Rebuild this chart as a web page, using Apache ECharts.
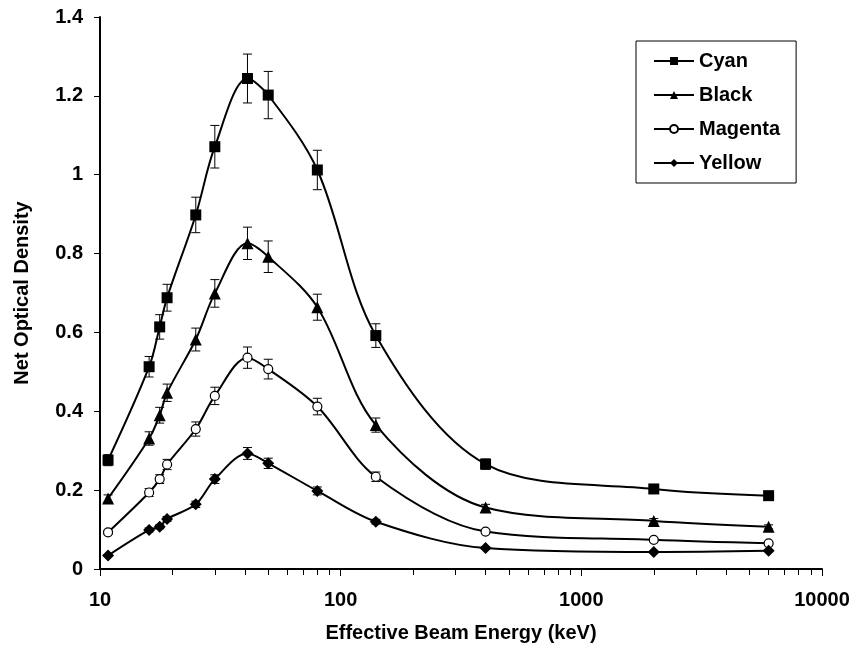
<!DOCTYPE html>
<html>
<head>
<meta charset="utf-8">
<script src="https://cdn.jsdelivr.net/npm/echarts@6/dist/echarts.min.js"></script>
<style>
  html, body { margin: 0; padding: 0; background: #fff; }
  #chart { width: 857px; height: 650px; }
</style>
</head>
<body>
<div id="chart"></div>
<script>
// Effective beam energy (keV) for each measurement
const energy = [10.8, 16, 17.7, 19, 25, 30, 41, 50, 80, 140, 400, 2000, 6000];

// Net optical density per ink colour
const cyan    = [0.276, 0.513, 0.614, 0.688, 0.898, 1.071, 1.244, 1.202, 1.012, 0.592, 0.266, 0.203, 0.186];
const black   = [0.179, 0.331, 0.390, 0.447, 0.582, 0.699, 0.826, 0.792, 0.664, 0.365, 0.156, 0.122, 0.107];
const magenta = [0.093, 0.194, 0.228, 0.265, 0.355, 0.439, 0.536, 0.507, 0.412, 0.234, 0.095, 0.074, 0.065];
const yellow  = [0.034, 0.099, 0.107, 0.127, 0.164, 0.228, 0.293, 0.268, 0.198, 0.120, 0.053, 0.043, 0.046];

// Uncertainty (+/-) on each value
const cyanErr    = [0.014, 0.026, 0.031, 0.034, 0.045, 0.054, 0.062, 0.060, 0.050, 0.030, 0.013, 0.010, 0.009];
const blackErr   = [0.009, 0.017, 0.020, 0.022, 0.029, 0.035, 0.041, 0.040, 0.033, 0.018, 0.008, 0.006, 0.005];
const magentaErr = [0.005, 0.010, 0.011, 0.013, 0.018, 0.022, 0.027, 0.025, 0.021, 0.012, 0.005, 0.004, 0.003];
const yellowErr  = [0.002, 0.005, 0.005, 0.006, 0.008, 0.011, 0.015, 0.013, 0.010, 0.006, 0.003, 0.002, 0.002];

const FONT = '"Liberation Sans", Arial, sans-serif';

const seriesDefs = [
  { name: 'Cyan',    values: cyan,    err: cyanErr,    symbol: 'rect',     size: 11, fill: '#000' },
  { name: 'Black',   values: black,   err: blackErr,   symbol: 'triangle', size: 12, fill: '#000' },
  { name: 'Magenta', values: magenta, err: magentaErr, symbol: 'circle',   size: 9,  fill: '#fff' },
  { name: 'Yellow',  values: yellow,  err: yellowErr,  symbol: 'diamond',  size: 12, fill: '#000' }
];

function errorBarItem(params, api) {
  const x = api.value(0), y = api.value(1), e = api.value(2);
  const top = api.coord([x, y + e]);
  const bot = api.coord([x, y - e]);
  const half = 4.5;
  const style = { stroke: '#000', lineWidth: 1 };
  return {
    type: 'group',
    children: [
      { type: 'line', shape: { x1: top[0], y1: top[1], x2: bot[0], y2: bot[1] }, style },
      { type: 'line', shape: { x1: top[0] - half, y1: top[1], x2: top[0] + half, y2: top[1] }, style },
      { type: 'line', shape: { x1: bot[0] - half, y1: bot[1], x2: bot[0] + half, y2: bot[1] }, style }
    ]
  };
}

const series = [];
seriesDefs.forEach(function (d) {
  series.push({
    type: 'custom',
    name: d.name + ' error',
    renderItem: errorBarItem,
    data: energy.map(function (x, i) { return [x, d.values[i], d.err[i]]; }),
    z: 1,
    silent: true
  });
});
seriesDefs.forEach(function (d) {
  series.push({
    type: 'line',
    name: d.name,
    data: energy.map(function (x, i) { return [x, d.values[i]]; }),
    smooth: 0.33,
    symbol: d.symbol,
    symbolSize: d.size,
    showAllSymbol: true,
    lineStyle: { color: '#000', width: 2 },
    itemStyle: { color: d.fill, borderColor: '#000', borderWidth: d.fill === '#fff' ? 1.2 : 0 },
    z: 3,
    animation: false
  });
});

const chart = echarts.init(document.getElementById('chart'), null, { renderer: 'canvas' });
chart.setOption({
  animation: false,
  backgroundColor: '#fff',
  grid: { left: 100, right: 35, top: 17, bottom: 81, containLabel: false },
  legend: {
    data: seriesDefs.map(function (d) { return d.name; }),
    orient: 'vertical',
    left: 636,
    top: 41,
    itemWidth: 40,
    itemHeight: 10,
    itemGap: 14,
    padding: [10, 16, 10, 17],
    borderColor: '#000',
    borderWidth: 1,
    textStyle: { fontFamily: FONT, fontWeight: 'bold', fontSize: 20, color: '#000' }
  },
  xAxis: {
    type: 'log',
    logBase: 10,
    min: 10,
    max: 10000,
    name: 'Effective Beam Energy (keV)',
    nameLocation: 'middle',
    nameGap: 54,
    nameTextStyle: { fontFamily: FONT, fontWeight: 'bold', fontSize: 20, color: '#000' },
    axisLine: { lineStyle: { color: '#000', width: 2 } },
    axisTick: { show: true, inside: false, length: 7, lineStyle: { color: '#000', width: 1 } },
    minorTick: { show: true, splitNumber: 9, length: 6, lineStyle: { color: '#000', width: 1 } },
    axisLabel: {
      margin: 21,
      fontFamily: FONT, fontWeight: 'bold', fontSize: 20, color: '#000',
      formatter: function (v) { return String(Math.round(v)); }
    },
    splitLine: { show: false },
    minorSplitLine: { show: false }
  },
  yAxis: {
    type: 'value',
    min: 0,
    max: 1.4,
    interval: 0.2,
    name: 'Net Optical Density',
    nameLocation: 'middle',
    nameGap: 68,
    nameTextStyle: { fontFamily: FONT, fontWeight: 'bold', fontSize: 20, color: '#000' },
    axisLine: { show: true, lineStyle: { color: '#000', width: 2 } },
    axisTick: { show: true, inside: false, length: 6, lineStyle: { color: '#000', width: 1 } },
    axisLabel: { margin: 17, fontFamily: FONT, fontWeight: 'bold', fontSize: 20, color: '#000' },
    splitLine: { show: false }
  },
  series: series
});
</script>
</body>
</html>
